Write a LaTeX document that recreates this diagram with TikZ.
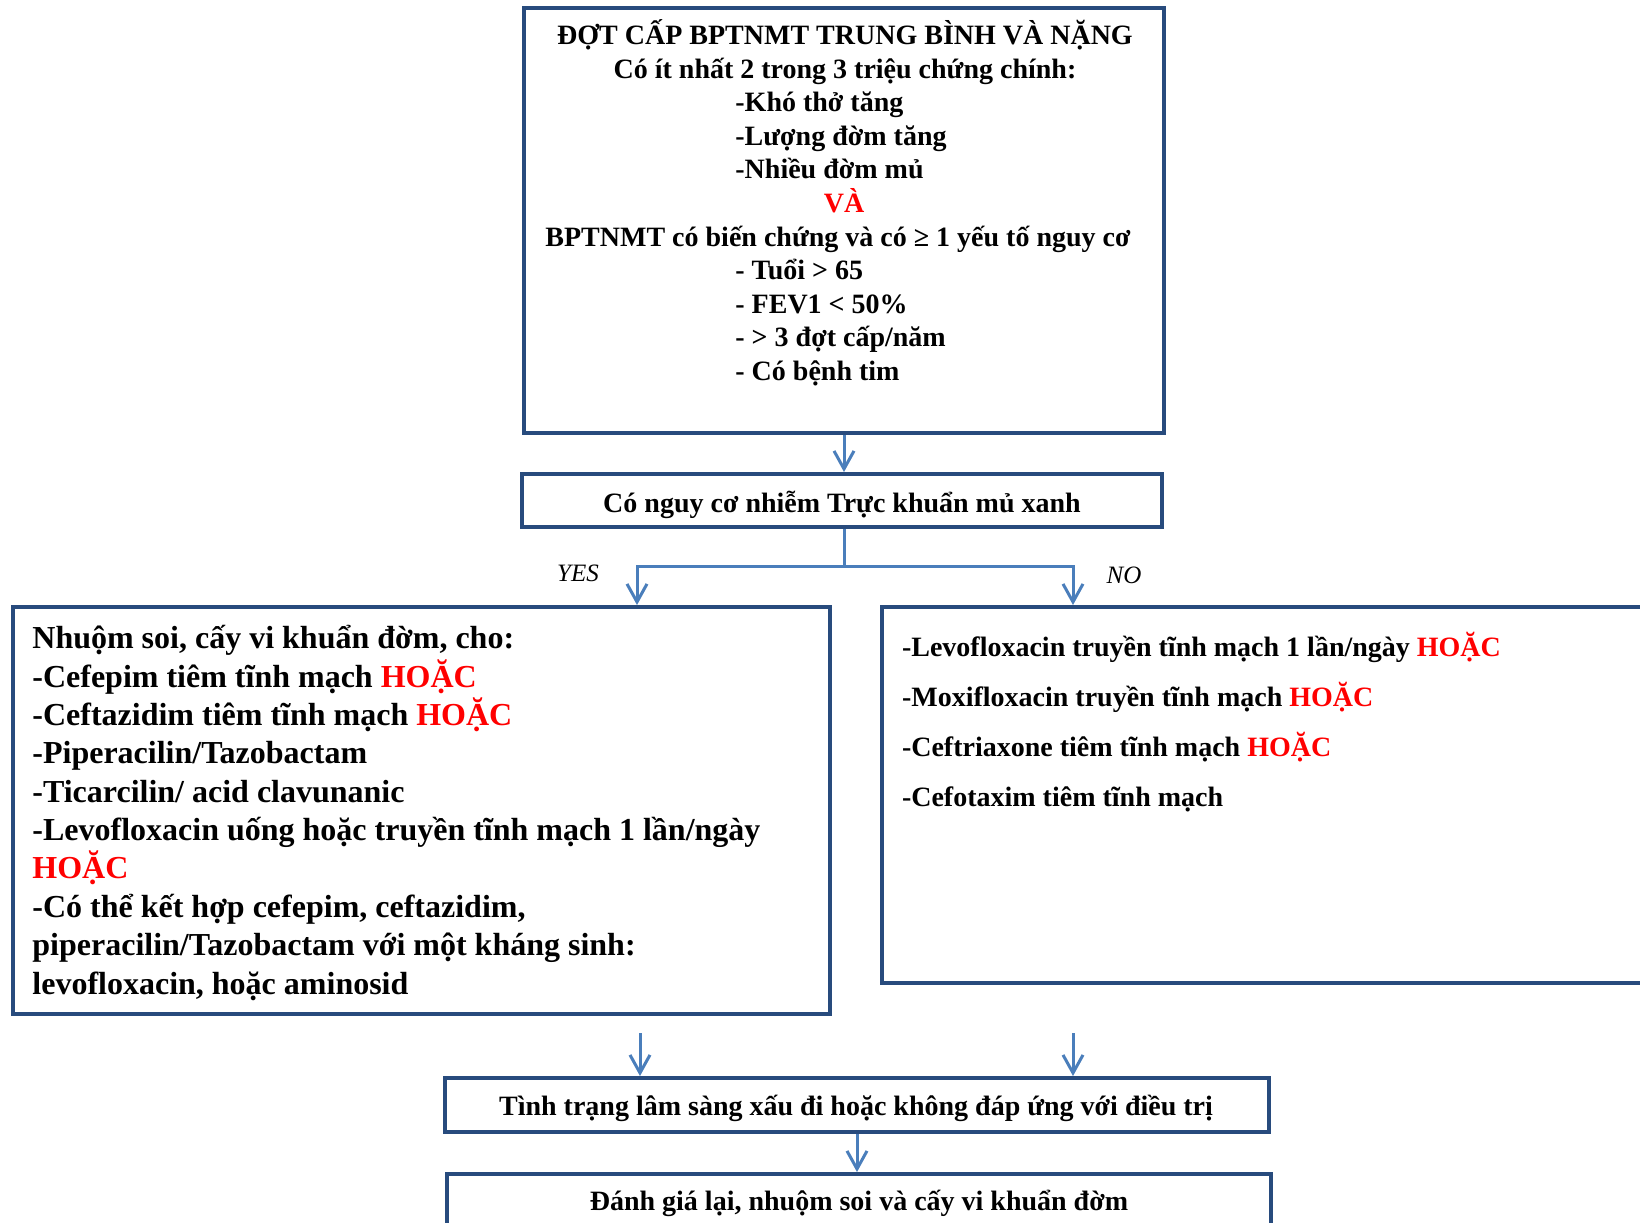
\documentclass[tikz,border=0pt]{standalone}
\usepackage{fontspec}
\setmainfont{Liberation Serif}
\usetikzlibrary{arrows.meta}
\definecolor{boxblue}{RGB}{40,75,125}
\definecolor{arrblue}{RGB}{74,126,187}
\definecolor{hred}{RGB}{255,0,0}
\begin{document}
\begin{tikzpicture}[x=0.5pt,y=-0.5pt,
  flowbox/.style={draw=boxblue, line width=2pt, rectangle, inner sep=0pt, fill=white},
  arr/.style={draw=arrblue, line width=1.5pt, -{Straight Barb[length=9pt,width=10pt]}},
  t14/.style={inner sep=0pt, font=\fontsize{14}{16.8}\selectfont\bfseries},
  t16/.style={inner sep=0pt, font=\fontsize{16}{19.2}\selectfont\bfseries},
  lab/.style={inner sep=0pt, font=\fontsize{12.5}{15}\selectfont\itshape},
]
\useasboundingbox (0,0) rectangle (1640,1222);
\clip (0,0) rectangle (1640,1222);

% boxes
\node[flowbox, minimum width=320pt, minimum height=212.5pt] (box1) at (844,220.5) {};
\node[flowbox, minimum width=320pt, minimum height=26.5pt] (box2) at (842,500.5) {};
\node[flowbox, minimum width=408.5pt, minimum height=203.5pt] (lbox) at (421.5,810.5) {};
\node[flowbox, minimum width=399pt, minimum height=188pt] (rbox) at (1281,795) {};
\node[flowbox, minimum width=412pt, minimum height=27pt] (box4) at (857,1105) {};
\node[flowbox, minimum width=412pt, minimum height=38pt] (box5) at (859,1212) {};

% top box text
\node[t14, anchor=base] (t1) at (845,44.5) {ĐỢT CẤP BPTNMT TRUNG BÌNH VÀ NẶNG};
\node[t14, anchor=base] (t2) at (845,78.1) {Có ít nhất 2 trong 3 triệu chứng chính:};
\node[t14, anchor=base west] (t3) at (735,111.7) {-Khó thở tăng};
\node[t14, anchor=base west] (t4) at (735,145.3) {-Lượng đờm tăng};
\node[t14, anchor=base west] (t5) at (735,178.9) {-Nhiều đờm mủ};
\node[t14, anchor=base, text=hred] (t6) at (844,212.5) {VÀ};
\node[t14, anchor=base] (t7) at (838,246.1) {BPTNMT có biến chứng và có ≥ 1 yếu tố nguy cơ};
\node[t14, anchor=base west] (t8) at (735,279.7) {- Tuổi > 65};
\node[t14, anchor=base west] (t9) at (735,313.3) {- FEV1 < 50\%};
\node[t14, anchor=base west] (t10) at (735,346.9) {- > 3 đợt cấp/năm};
\node[t14, anchor=base west] (t11) at (735,380.5) {- Có bệnh tim};

% box 2 text
\node[t14, anchor=base] (b2t) at (842,512.4) {Có nguy cơ nhiễm Trực khuẩn mủ xanh};

% labels
\node[lab] (yes) at (578,573) {YES};
\node[lab] (no) at (1124,575) {NO};

% left box text
\node[t16, anchor=base west] (l1) at (32,648.8) {Nhuộm soi, cấy vi khuẩn đờm, cho:};
\node[t16, anchor=base west] (l2) at (32,687.2) {-Cefepim tiêm tĩnh mạch \textcolor{hred}{HOẶC}};
\node[t16, anchor=base west] (l3) at (32,725.5) {-Ceftazidim tiêm tĩnh mạch \textcolor{hred}{HOẶC}};
\node[t16, anchor=base west] (l4) at (32,763.9) {-Piperacilin/Tazobactam};
\node[t16, anchor=base west] (l5) at (32,802.2) {-Ticarcilin/ acid clavunanic};
\node[t16, anchor=base west] (l6) at (32,840.6) {-Levofloxacin uống hoặc truyền tĩnh mạch 1 lần/ngày};
\node[t16, anchor=base west, text=hred] (l7) at (32,878.9) {HOẶC};
\node[t16, anchor=base west] (l8) at (32,917.3) {-Có thể kết hợp cefepim, ceftazidim,};
\node[t16, anchor=base west] (l9) at (32,955.6) {piperacilin/Tazobactam với một kháng sinh:};
\node[t16, anchor=base west] (l10) at (32,994.0) {levofloxacin, hoặc aminosid};

% right box text
\node[t14, anchor=base west] (r1) at (901.6,656.0) {-Levofloxacin truyền tĩnh mạch 1 lần/ngày \textcolor{hred}{HOẶC}};
\node[t14, anchor=base west] (r2) at (901.6,706.2) {-Moxifloxacin truyền tĩnh mạch \textcolor{hred}{HOẶC}};
\node[t14, anchor=base west] (r3) at (901.6,756.4) {-Ceftriaxone tiêm tĩnh mạch \textcolor{hred}{HOẶC}};
\node[t14, anchor=base west] (r4) at (901.6,806.6) {-Cefotaxim tiêm tĩnh mạch};

% box 4 and 5 text
\node[t14, anchor=base] (b4t) at (856,1115.5) {Tình trạng lâm sàng xấu đi hoặc không đáp ứng với điều trị};
\node[t14, anchor=base] (b5t) at (859,1210) {Đánh giá lại, nhuộm soi và cấy vi khuẩn đờm};

% connectors
\coordinate (split) at (844,566);
\coordinate (ya) at (637,566);
\coordinate (na) at (1073,566);
\coordinate (lfree) at (640,1033);
\coordinate (rfree) at (1073,1033);

\draw[arr] (box1.south -| split) -- (split |- box2.north);
\draw[arr] (box2.south -| split) -- (split) -- (ya) -- (ya |- lbox.north);
\draw[arr] (split) -- (na) -- (na |- rbox.north);
\draw[arr] (lfree) -- (lfree |- box4.north);
\draw[arr] (rfree) -- (rfree |- box4.north);
\draw[arr] (box4.south) -- (box4.south |- box5.north);
\end{tikzpicture}
\end{document}
